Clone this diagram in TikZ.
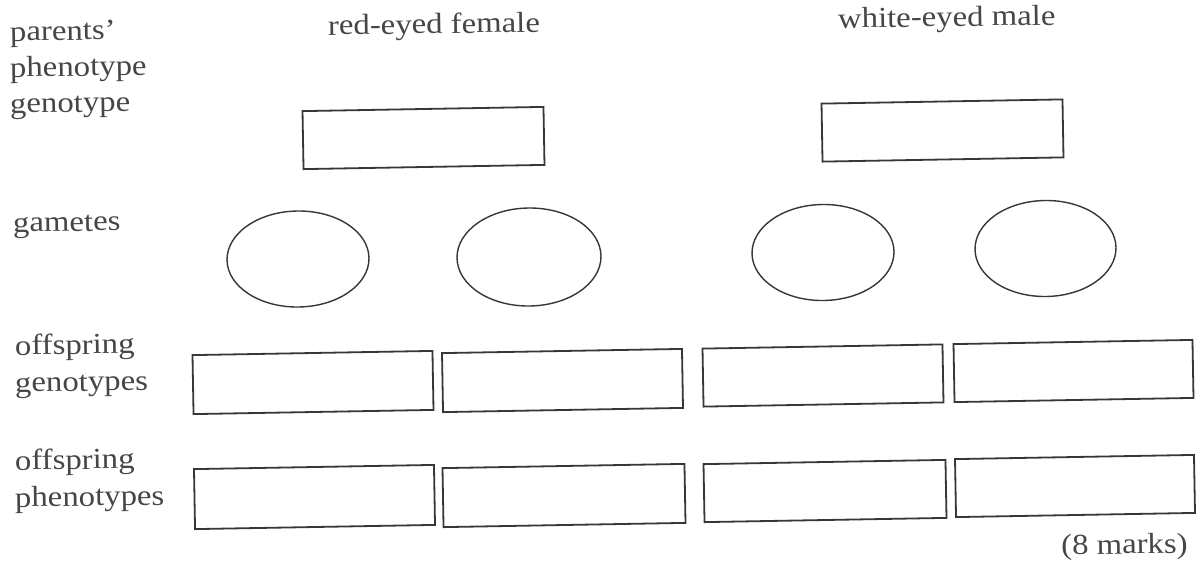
\documentclass[tikz,border=0pt]{standalone}
\usepackage{fontspec}
\setmainfont{Liberation Serif}[FakeStretch=1.13]
\usetikzlibrary{shapes.geometric}
\definecolor{ink}{RGB}{55,55,55}
\definecolor{txt}{RGB}{70,70,70}
\tikzset{
  lbl/.style={inner sep=0pt, text=txt, font=\fontsize{29}{37}\selectfont, rotate=0.8},
  answerbox/.style={draw=ink, line width=1.8pt, rectangle, inner sep=0pt,
     minimum width=240pt, minimum height=58pt, rotate=1},
  gamete/.style={draw=ink, line width=1.4pt, ellipse, inner sep=0pt,
     minimum width=142pt, minimum height=96pt, rotate=0.8}
}
\begin{document}
\begin{tikzpicture}[x=1pt,y=-1pt]
\useasboundingbox[fill=white] (0,0) rectangle (1199,566);
% row labels
\node[lbl, anchor=base west] (l1) at (10,41) {parents’};
\node[lbl, anchor=base west] (l2) at (10,77) {phenotype};
\node[lbl, anchor=base west] (l3) at (10,113) {genotype};
\node[lbl, anchor=base west] (l4) at (13,232) {gametes};
\node[lbl, anchor=base west] (l5) at (15,355) {offspring};
\node[lbl, anchor=base west] (l6) at (15,392) {genotypes};
\node[lbl, anchor=base west] (l7) at (15,470) {offspring};
\node[lbl, anchor=base west] (l8) at (15,507) {phenotypes};
% column headings
\node[lbl, anchor=base west] (hf) at (328,35) {red-eyed female};
\node[lbl, anchor=base west] (hm) at (838,28) {white-eyed male};
% parent genotype boxes
\node[answerbox, minimum width=241pt] (pf) at (423.5,138) {};
\node[answerbox, minimum width=241pt] (pm) at (942.5,130.5) {};
% gametes
\node[gamete] (g1) at (298,259) {};
\node[gamete, minimum width=144pt, minimum height=98pt] (g2) at (529,257) {};
\node[gamete] (g3) at (823,252.5) {};
\node[gamete, minimum width=141pt] (g4) at (1045.5,248.5) {};
% offspring genotypes
\node[answerbox, minimum height=59pt] (og1) at (313,382.5) {};
\node[answerbox, minimum height=59pt] (og2) at (562.5,380.5) {};
\node[answerbox] (og3) at (823,375.5) {};
\node[answerbox, minimum width=239pt] (og4) at (1073.5,371) {};
% offspring phenotypes
\node[answerbox, minimum height=60pt] (op1) at (314.5,497) {};
\node[answerbox, minimum height=59pt, minimum width=242pt] (op2) at (564,495.5) {};
\node[answerbox, minimum width=242pt] (op3) at (825,491) {};
\node[answerbox, minimum width=239pt] (op4) at (1075,486) {};
% marks
\node[lbl, anchor=base east] (mk) at (1188,553) {(8 marks)};
\end{tikzpicture}
\end{document}
